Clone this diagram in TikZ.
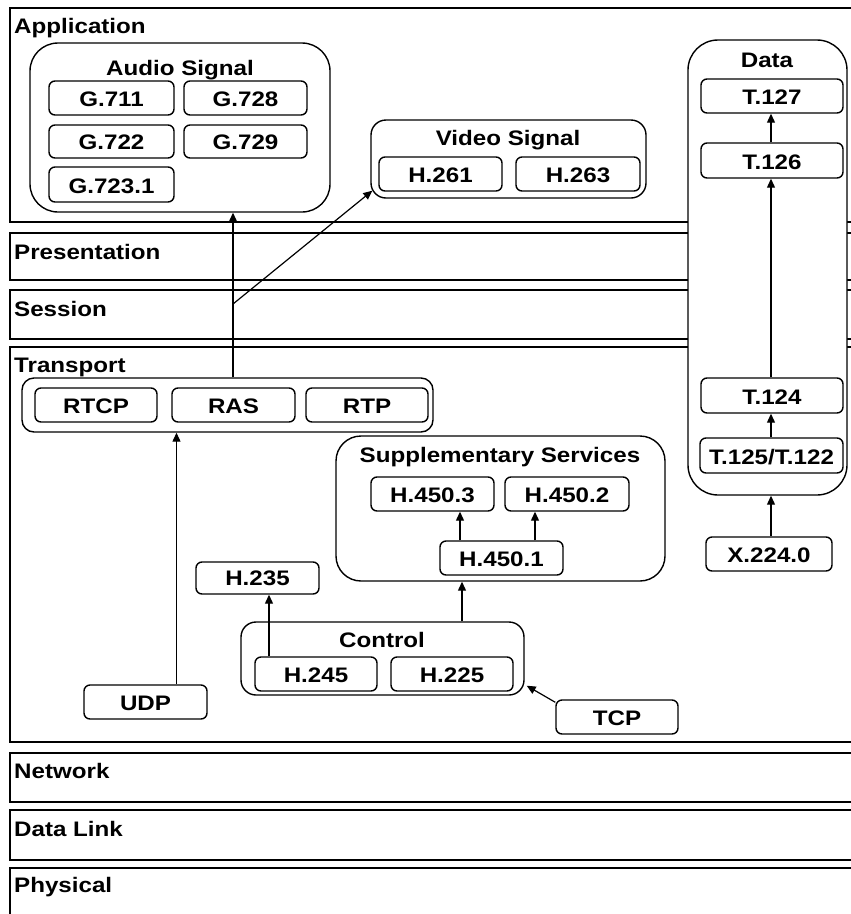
\documentclass[tikz,border=0pt]{standalone}
\usepackage{fontspec}
\setmainfont{Liberation Sans}[FakeStretch=1.15]
\usetikzlibrary{arrows.meta,fit,calc}
\begin{document}
\begin{tikzpicture}[x=1pt,y=-1pt,
  font=\bfseries\fontsize{21}{25}\selectfont,
  layer/.style={draw, line width=2pt, inner sep=0pt},
  lbl/.style={anchor=base west, inner sep=0pt},
  box/.style={draw, line width=1.4pt, rounded corners=6pt, inner sep=0pt},
  grp/.style={draw, line width=1.4pt, inner sep=0pt},
  ttl/.style={anchor=base, inner sep=0pt},
  arr/.style={line width=1.2pt, -{Triangle[length=9pt,width=8pt]}}]
\useasboundingbox (0,0) rectangle (851,914);
\clip (0,0) rectangle (851,914);
% OSI layers
\node[layer, fit={(10,8) (880,222)}] (lapp) {};
\node[layer, fit={(10,233) (880,280)}] (lpre) {};
\node[layer, fit={(10,290) (880,339)}] (lses) {};
\node[layer, fit={(10,347) (880,742)}] (ltra) {};
\node[layer, fit={(10,753) (880,802)}] (lnet) {};
\node[layer, fit={(10,810) (880,860)}] (ldl) {};
\node[layer, fit={(10,868) (880,940)}] (lphy) {};
\node[lbl] (tapp) at (14,33) {Application};
\node[lbl] (tpre) at (14,259) {Presentation};
\node[lbl] (tses) at (14,316) {Session};
\node[lbl] (ttra) at (14,372) {Transport};
\node[lbl] (tnet) at (14,778) {Network};
\node[lbl] (tdl) at (14,836) {Data Link};
\node[lbl] (tphy) at (14,892) {Physical};
% Data column
\node[grp, fill=white, rounded corners=30pt, fit={(688,40) (847,495)}] (data) {};
\node[ttl] (datat) at (767,67) {Data};
\node[box, fit={(701,79) (843,113)}] (t127) {};
\node[box, fit={(701,143) (843,178)}] (t126) {};
\node[box, fit={(701,378) (843,413)}] (t124) {};
\node[box, fit={(700,438) (843,473)}] (t125) {};
\node[box, fit={(706,537) (832,571)}] (x224) {};
% Audio
\node[grp, rounded corners=28pt, fit={(30,43) (330,212)}] (audio) {};
\node[ttl] (audiot) at (180,75) {Audio Signal};
\node[box, fit={(49,81) (174,115)}] (g711) {};
\node[box, fit={(184,81) (307,115)}] (g728) {};
\node[box, fit={(49,125) (174,158)}] (g722) {};
\node[box, fit={(184,125) (307,158)}] (g729) {};
\node[box, fit={(49,167) (174,202)}] (g723) {};
% Video
\node[grp, rounded corners=15pt, fit={(371,120) (646,198)}] (video) {};
\node[ttl] (videot) at (508,145) {Video Signal};
\node[box, fit={(379,157) (502,191)}] (h261) {};
\node[box, fit={(516,157) (640,191)}] (h263) {};
% Transport group
\node[grp, rounded corners=12pt, fit={(22,378) (433,432)}] (tgrp) {};
\node[box, fit={(35,388) (157,422)}] (rtcp) {};
\node[box, fit={(172,388) (295,422)}] (ras) {};
\node[box, fit={(306,388) (428,422)}] (rtp) {};
% Supplementary services
\node[grp, rounded corners=25pt, fit={(336,436) (665,581)}] (supp) {};
\node[ttl] (suppt) at (500,462) {Supplementary Services};
\node[box, fit={(371,477) (494,511)}] (h4503) {};
\node[box, fit={(505,477) (629,511)}] (h4502) {};
\node[box, fit={(440,541) (563,575)}] (h4501) {};
% Control
\node[box, fit={(196,562) (319,594)}] (h235) {};
\node[grp, rounded corners=15pt, fit={(241,622) (524,695)}] (ctrl) {};
\node[ttl] (ctrlt) at (382,647) {Control};
\node[box, fit={(255,657) (377,691)}] (h245) {};
\node[box, fit={(391,657) (513,691)}] (h225) {};
\node[box, fit={(84,685) (207,719)}] (udp) {};
\node[box, fit={(556,700) (678,734)}] (tcp) {};
% box texts
\foreach \n/\t in {t127/T.127, t126/T.126, t124/T.124, x224/X.224.0,
  g711/G.711, g728/G.728, g722/G.722, g729/G.729, g723/G.723.1, h261/H.261, h263/H.263,
  rtcp/RTCP, ras/RAS, rtp/RTP, h4503/H.450.3, h4502/H.450.2, h4501/H.450.1,
  h235/H.235, h245/H.245, h225/H.225, udp/UDP, tcp/TCP}
  {\node[ttl] (\n-t) at ([yshift=9pt]\n.south) {\t};}
\node[ttl] (t125-t) at ([yshift=9pt]t125.south) {T.125/T.122};
% connectors
\coordinate (jn) at (233,304);
\draw[arr] (tgrp.north -| jn) -- (audio.south -| jn);
\draw[arr] (jn) -- ([shift={(2,-8)}]video.south west);
\coordinate (udpa) at ([xshift=31pt]udp.north);
\draw[arr] (udpa) -- (udpa |- tgrp.south);
\coordinate (c245) at (269,0);
\draw[arr] (h245.north -| c245) -- (h235.south -| c245);
\coordinate (c462) at (462,0);
\draw[arr] (ctrl.north -| c462) -- (supp.south -| c462);
\coordinate (c460) at (460,0);
\draw[arr] (h4501.north -| c460) -- (h4503.south -| c460);
\coordinate (c535) at (535,0);
\draw[arr] (h4501.north -| c535) -- (h4502.south -| c535);
\draw[arr] ([yshift=-3pt]tcp.north west) -- ([shift={(2,-10)}]ctrl.south east);
\coordinate (c771) at (771,0);
\draw[arr] (t126.north -| c771) -- (t127.south -| c771);
\draw[arr] (t124.north -| c771) -- (t126.south -| c771);
\draw[arr] (t125.north -| c771) -- (t124.south -| c771);
\draw[arr] (x224.north -| c771) -- (data.south -| c771);
\end{tikzpicture}
\end{document}
